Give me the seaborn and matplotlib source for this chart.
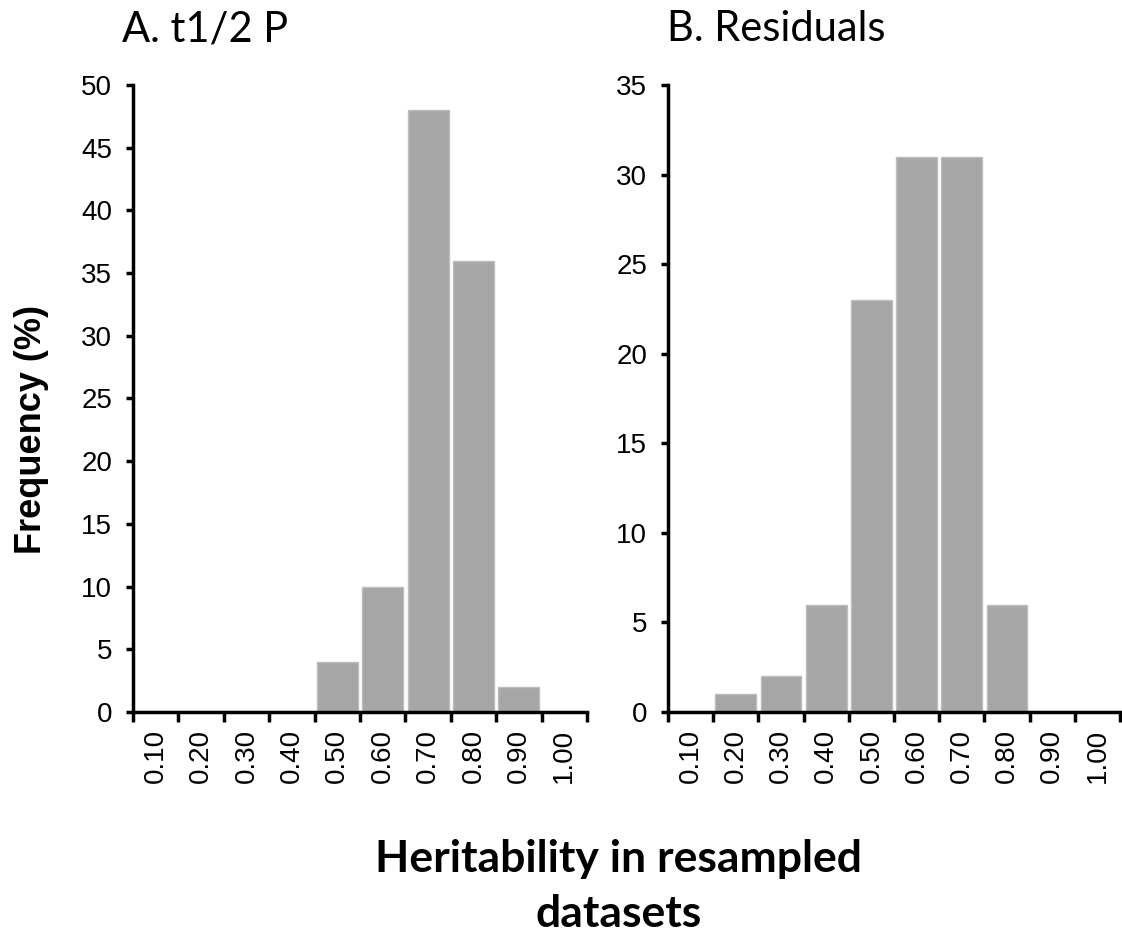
import matplotlib
matplotlib.use("Agg")
import matplotlib.pyplot as plt
import seaborn as sns
import pandas as pd

bins = ["0.10", "0.20", "0.30", "0.40", "0.50", "0.60", "0.70", "0.80", "0.90", "1.00"]
freq_a = [0, 0, 0, 0, 4, 10, 48, 36, 2, 0]
freq_b = [0, 1, 2, 6, 23, 31, 31, 6, 0, 0]
titles = ["A. t1/2 P", "B. Residuals"]
ylims = [50, 35]

sns.set_style("ticks", {"text.color": "black", "axes.edgecolor": "black",
                        "xtick.color": "black", "ytick.color": "black",
                        "axes.labelcolor": "black"})
plt.rcParams["font.family"] = ["Liberation Sans", "DejaVu Sans"]

fig = plt.figure(figsize=(11.22, 9.35), dpi=100)
ax_a = fig.add_axes([0.1185, 0.2385, 0.4047, 0.6706])
ax_b = fig.add_axes([0.5954, 0.2385, 0.4028, 0.6706])

for ax, vals, ymax in zip([ax_a, ax_b], [freq_a, freq_b], ylims):
    df = pd.DataFrame({"bin": bins, "freq": vals})
    sns.barplot(df, x="bin", y="freq", color="#A6A6A6", saturation=1,
                width=0.9, edgecolor="#BDBDBD", linewidth=1, ax=ax)
    ax.set_xlim(-0.5, len(bins) - 0.5)
    ax.set_ylim(0, ymax)
    ax.set_yticks(range(0, ymax + 1, 5))
    # Excel style: ticks on category boundaries, labels centred between
    ax.set_xticks([i - 0.5 for i in range(len(bins) + 1)])
    ax.set_xticklabels([])
    ax.set_xticks(range(len(bins)), minor=True)
    ax.set_xticklabels(bins, minor=True, rotation=90, fontsize=20)
    ax.tick_params(axis="x", which="major", length=7, width=2.5, direction="out")
    ax.tick_params(axis="x", which="minor", length=0, pad=12)
    ax.tick_params(axis="y", length=5, width=2.5, labelsize=20, pad=10)
    for side in ["top", "right"]:
        ax.spines[side].set_visible(False)
    for side in ["left", "bottom"]:
        ax.spines[side].set_linewidth(2.5)
    ax.set_xlabel("")
    ax.set_ylabel("")

title_font = ["Lato", "DejaVu Sans"]
fig.text(122 / 1122, 1 - 41 / 935, titles[0], fontsize=30, family=title_font,
         va="baseline", ha="left")
fig.text(667 / 1122, 1 - 41 / 935, titles[1], fontsize=30, family=title_font,
         va="baseline", ha="left")
fig.text(32 / 1122, 1 - 430 / 935, "Frequency (%)", rotation=90, fontsize=26,
         fontweight="bold", va="center", ha="center")
fig.text(619 / 1122, 1 - 872 / 935, "Heritability in resampled", fontsize=32,
         fontweight="bold", family=title_font, va="baseline", ha="center")
fig.text(619 / 1122, 1 - 927 / 935, "datasets", fontsize=32,
         fontweight="bold", family=title_font, va="baseline", ha="center")

fig.savefig("out.png", dpi=100)
